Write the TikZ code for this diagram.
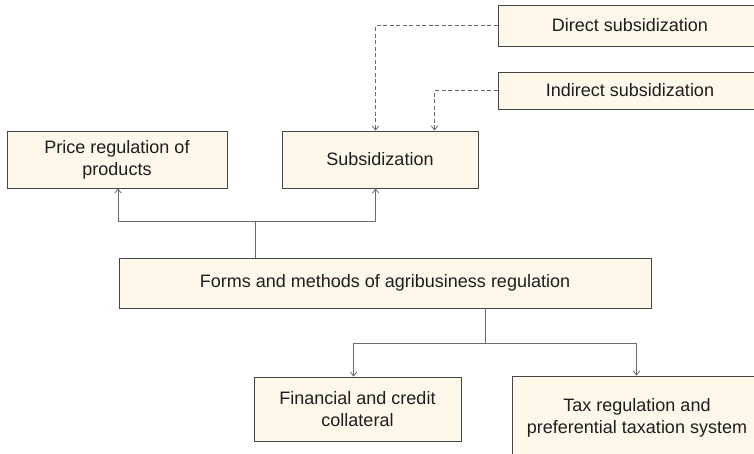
\documentclass[tikz,border=0pt]{standalone}
\usepackage{fontspec}
\setmainfont{Liberation Sans}
\usetikzlibrary{arrows.meta}
\definecolor{boxfill}{HTML}{FDF8EA}
\definecolor{boxline}{HTML}{454545}
\definecolor{linkline}{HTML}{6A6A6A}
\definecolor{txt}{HTML}{1E1E1E}
\begin{document}
\begin{tikzpicture}[x=1pt,y=-1pt,
  box/.style={draw=boxline,fill=boxfill,line width=0.9pt,rectangle,inner sep=0pt,
    align=center,text=txt,font=\fontsize{18}{22}\selectfont},
  link/.style={draw=linkline,line width=0.9pt},
  arr/.style={link,-{Straight Barb[length=4pt,width=6.5pt,line width=0.8pt]}},
  dasharr/.style={arr,dashed,dash pattern=on 4pt off 2.5pt}]
\useasboundingbox (0,0) rectangle (754,453);
\clip (0,0) rectangle (754,453);
\fill[white] (0,0) rectangle (754,453);

\node[box,minimum width=264pt,minimum height=41pt] (direct) at (630,25.5) {Direct subsidization};
\node[box,minimum width=264pt,minimum height=37pt] (indirect) at (630,90.5) {Indirect subsidization};
\node[box,minimum width=196pt,minimum height=57pt] (sub) at (380,159.5) {Subsidization};
\node[box,minimum width=220pt,minimum height=57pt] (price) at (117,159.5) {Price regulation of\\products};
\node[box,minimum width=532pt,minimum height=50pt] (forms) at (385,283) {Forms and methods of agribusiness regulation};
\node[box,minimum width=207pt,minimum height=64pt] (fin) at (357.5,409) {Financial and credit\\collateral};
\node[box,minimum width=250pt,minimum height=84pt] (tax) at (637,418) {Tax regulation and\\preferential taxation system};

% upper branch
\coordinate (up) at (255,221);
\draw[link] (forms.north -| up) -- (up);
\draw[arr] (up) -| ([xshift=1pt]price.south);
\draw[arr] (up) -| ([xshift=94pt]sub.south west);

% dashed feeds into subsidization
\draw[dasharr] (direct.west) -| ([xshift=94pt]sub.north west);
\draw[dasharr] (indirect.west) -| ([xshift=153pt]sub.north west);

% lower branch
\coordinate (down) at (485,343);
\draw[link] (forms.south -| down) -- (down);
\draw[arr] (down) -| ([xshift=100pt]fin.north west);
\draw[arr] (down) -| ([xshift=125pt]tax.north west);
\end{tikzpicture}
\end{document}
